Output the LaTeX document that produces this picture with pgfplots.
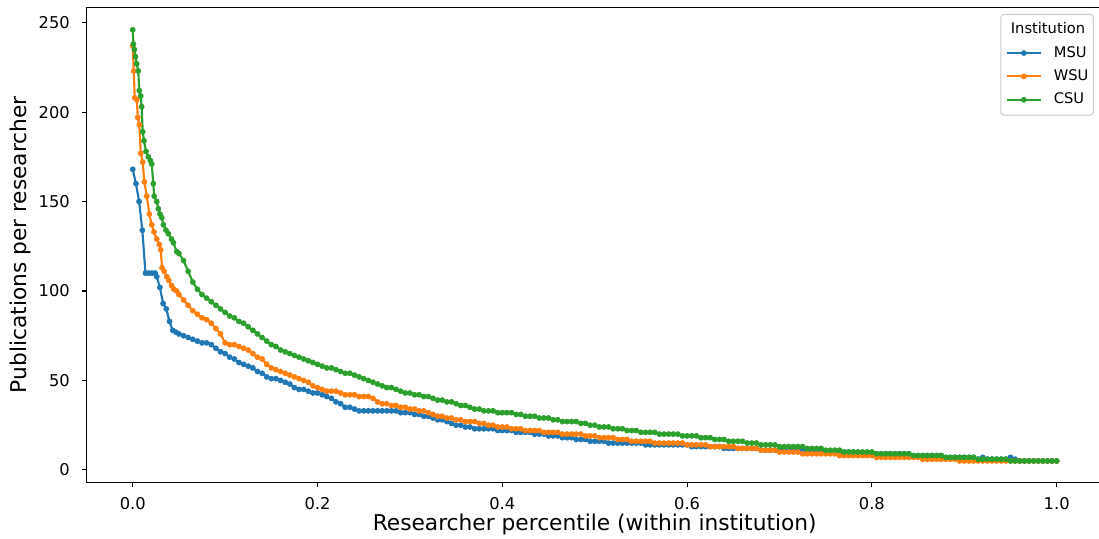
\documentclass[border=0pt]{standalone}
\usepackage{pgfplots}
\pgfplotsset{compat=1.18}
\usepackage{fontspec}
\setmainfont{DejaVu Sans}
\definecolor{c0}{HTML}{1F77B4}
\definecolor{c1}{HTML}{FF7F0E}
\definecolor{c2}{HTML}{2CA02C}
\newcommand{\tickfont}{\fontsize{12.2}{15}\selectfont}
\newcommand{\labfont}{\fontsize{16.3}{19}\selectfont}
\newcommand{\legfont}{\fontsize{11}{13}\selectfont}
\begin{document}
\begin{tikzpicture}
\path[use as bounding box, clip] (-64.9pt,-42.5pt) rectangle (759.4pt,361.7pt);
\begin{axis}[
  at={(0pt,0pt)}, anchor=south west,
  scale only axis, width=762.3pt, height=356.25pt,
  xmin=-0.05, xmax=1.05, ymin=-6.9, ymax=258.6,
  xtick={0,0.2,0.4,0.6,0.8,1}, xticklabels={0.0,0.2,0.4,0.6,0.8,1.0},
  ytick={0,50,100,150,200,250}, yticklabels={0,50,100,150,200,250},
  tick align=outside, tick pos=left,
  major tick length=3.75pt,
  every tick/.style={black, line width=0.85pt},
  axis line style={line width=0.85pt},
  xticklabel style={font=\tickfont, inner sep=0pt, anchor=north, yshift=-7.5pt},
  yticklabel style={font=\tickfont, inner sep=0pt, anchor=east, xshift=-8.6pt},
  xlabel={Researcher percentile (within institution)},
  ylabel={Publications per researcher},
  xlabel style={font=\labfont, inner sep=0pt, at={(axis description cs:0.5,-0.1025)}, anchor=base},
  ylabel style={font=\labfont, inner sep=0pt, at={(axis description cs:-0.0593,0.5)}, anchor=base, rotate=0},
  legend cell align=left,
  legend image code/.code={\draw[mark repeat=2,mark phase=2,#1] plot coordinates {(0pt,0pt) (12.75pt,0pt) (25.5pt,0pt)};},
  legend style={at={(axis description cs:1,1)}, anchor=north east, xshift=-6.7pt, yshift=-5pt,
    draw=black!20, line width=0.75pt, rounded corners=2.5pt, fill=white,
    inner xsep=3.75pt, inner ysep=6pt, font=\legfont, row sep=6.5pt, column sep=9pt,
    nodes={inner sep=0pt, text height=8.5pt, text depth=2.5pt}},
  every axis plot/.append style={line width=1.6pt, mark=*, mark size=1.9pt, mark options={solid, line width=0.5pt}},
]
\addlegendimage{empty legend}
\addlegendentry{\hspace*{-32.25pt}Institution}

\addplot[color=c0] coordinates {
(0,168)(0.0035,160)(0.0069,150)(0.0104,134)(0.0138,110)(0.0173,110)(0.0208,110)(0.0242,110)(0.026,108)(0.0294,102)(0.0329,93)(0.0363,90)(0.0398,83)(0.0433,78)(0.0467,77)
(0.05,76)(0.055,75)(0.06,74)(0.065,73)(0.07,72)(0.075,71)(0.08,71)(0.085,70)(0.09,68)(0.095,66)
(0.1,65)(0.105,63)(0.11,62)(0.115,60)(0.12,59)(0.125,58)(0.13,57)(0.135,55)(0.14,54)(0.145,52)
(0.15,51)(0.155,51)(0.16,50)(0.165,49)(0.17,48)(0.175,46)(0.18,45)(0.185,45)(0.19,44)(0.195,43)
(0.2,43)(0.205,42)(0.21,41)(0.215,40)(0.22,38)(0.225,37)(0.23,35)(0.235,35)(0.24,34)(0.245,33)
(0.25,33)(0.255,33)(0.26,33)(0.265,33)(0.27,33)(0.275,33)(0.28,33)(0.285,33)(0.29,32)(0.295,32)
(0.3,32)(0.305,31)(0.31,31)(0.315,30)(0.32,30)(0.325,29)(0.33,28)(0.335,28)(0.34,27)(0.345,26)
(0.35,25)(0.355,25)(0.36,24)(0.365,24)(0.37,23)(0.375,23)(0.38,23)(0.385,23)(0.39,23)(0.395,22)
(0.4,22)(0.405,22)(0.41,22)(0.415,21)(0.42,21)(0.425,21)(0.43,21)(0.435,20)(0.44,20)(0.445,20)
(0.45,19)(0.455,19)(0.46,19)(0.465,18)(0.47,18)(0.475,18)(0.48,17)(0.485,17)(0.49,17)(0.495,16)
(0.5,16)(0.505,16)(0.51,16)(0.515,15)(0.52,15)(0.525,15)(0.53,15)(0.535,15)(0.54,15)(0.545,15)
(0.55,15)(0.555,14)(0.56,14)(0.565,14)(0.57,14)(0.575,14)(0.58,14)(0.585,14)(0.59,14)(0.595,14)
(0.6,14)(0.605,13)(0.61,13)(0.615,13)(0.62,13)(0.625,13)(0.63,13)(0.635,13)(0.64,12)(0.645,12)
(0.65,12)(0.655,12)(0.66,12)(0.665,12)(0.67,12)(0.675,12)(0.68,11)(0.685,11)(0.69,11)(0.695,11)
(0.7,11)(0.705,11)(0.71,11)(0.715,11)(0.72,11)(0.725,11)(0.73,11)(0.735,10)(0.74,10)(0.745,10)
(0.75,10)(0.755,10)(0.76,10)(0.765,10)(0.77,10)(0.775,10)(0.78,10)(0.785,9)(0.79,9)(0.795,9)
(0.8,9)(0.805,9)(0.81,9)(0.815,9)(0.82,9)(0.825,9)(0.83,9)(0.835,9)(0.84,9)(0.845,8)
(0.85,8)(0.855,8)(0.86,8)(0.865,8)(0.87,8)(0.875,8)(0.88,7)(0.885,7)(0.89,7)(0.895,7)
(0.9,7)(0.905,7)(0.91,7)(0.915,6)(0.92,7)(0.925,6)(0.93,6)(0.935,6)(0.94,6)(0.945,6)
(0.95,7)(0.955,6)(0.96,5)(0.965,5)(0.97,5)(0.975,5)(0.98,5)(0.985,5)(0.99,5)(0.995,5)(1,5)
};
\addlegendentry{MSU}

\addplot[color=c1] coordinates {
(0,237)(0.0011,223)(0.0022,208)(0.0044,207)(0.0055,197)(0.0071,193)(0.0087,177)(0.0108,172)(0.0126,161)(0.0152,153)(0.018,143)(0.0206,137)(0.023,133)(0.026,129)(0.0288,126)(0.0303,123)(0.0317,113)(0.034,111)(0.0368,108)(0.039,106)(0.042,103)(0.0445,101)(0.0476,100)
(0.05,98)(0.055,95)(0.06,92)(0.065,89)(0.07,87)(0.075,85)(0.08,84)(0.085,82)(0.09,79)(0.095,76)
(0.1,71)(0.105,70)(0.11,70)(0.115,69)(0.12,68)(0.125,67)(0.13,65)(0.135,63)(0.14,62)(0.145,59)
(0.15,57)(0.155,56)(0.16,55)(0.165,54)(0.17,53)(0.175,52)(0.18,51)(0.185,50)(0.19,49)(0.195,47)
(0.2,46)(0.205,45)(0.21,44)(0.215,44)(0.22,44)(0.225,43)(0.23,42)(0.235,42)(0.24,42)(0.245,41)
(0.25,41)(0.255,41)(0.26,40)(0.265,38)(0.27,37)(0.275,37)(0.28,36)(0.285,36)(0.29,35)(0.295,35)
(0.3,34)(0.305,34)(0.31,33)(0.315,33)(0.32,32)(0.325,31)(0.33,30)(0.335,30)(0.34,29)(0.345,29)
(0.35,28)(0.355,28)(0.36,27)(0.365,27)(0.37,27)(0.375,26)(0.38,26)(0.385,25)(0.39,25)(0.395,24)
(0.4,24)(0.405,24)(0.41,23)(0.415,23)(0.42,23)(0.425,22)(0.43,22)(0.435,22)(0.44,22)(0.445,21)
(0.45,21)(0.455,21)(0.46,21)(0.465,20)(0.47,20)(0.475,20)(0.48,20)(0.485,20)(0.49,19)(0.495,19)
(0.5,19)(0.505,18)(0.51,18)(0.515,18)(0.52,18)(0.525,17)(0.53,17)(0.535,17)(0.54,16)(0.545,16)
(0.55,16)(0.555,16)(0.56,16)(0.565,15)(0.57,15)(0.575,15)(0.58,15)(0.585,15)(0.59,15)(0.595,15)
(0.6,14)(0.605,14)(0.61,14)(0.615,14)(0.62,14)(0.625,13)(0.63,13)(0.635,13)(0.64,13)(0.645,13)
(0.65,13)(0.655,12)(0.66,12)(0.665,12)(0.67,12)(0.675,12)(0.68,11)(0.685,11)(0.69,11)(0.695,11)
(0.7,10)(0.705,10)(0.71,10)(0.715,10)(0.72,10)(0.725,9)(0.73,9)(0.735,9)(0.74,9)(0.745,9)
(0.75,9)(0.755,9)(0.76,9)(0.765,8)(0.77,8)(0.775,8)(0.78,8)(0.785,8)(0.79,8)(0.795,8)
(0.8,8)(0.805,7)(0.81,7)(0.815,7)(0.82,7)(0.825,7)(0.83,7)(0.835,7)(0.84,7)(0.845,7)
(0.85,7)(0.855,6)(0.86,6)(0.865,6)(0.87,6)(0.875,6)(0.88,6)(0.885,6)(0.89,6)(0.895,5)
(0.9,5)(0.905,5)(0.91,5)(0.915,5)(0.92,5)(0.925,5)(0.93,5)(0.935,5)(0.94,5)(0.945,5)
(0.95,5)(0.955,5)(0.96,5)(0.965,5)(0.97,5)(0.975,5)(0.98,5)(0.985,5)(0.99,5)(0.995,5)(1,5)
};
\addlegendentry{WSU}

\addplot[color=c2] coordinates {
(0,246)(0.0007,238)(0.0018,235)(0.003,231)(0.0043,227)(0.006,223)(0.0071,212)(0.0087,209)(0.0097,203)(0.0108,189)(0.0122,184)(0.0144,178)(0.0169,175)(0.019,173)(0.0206,171)(0.0223,160)(0.0232,153)(0.026,150)(0.0277,146)(0.0295,143)(0.0314,141)(0.0332,137)(0.036,134)(0.0386,132)(0.042,129)(0.044,127)(0.0476,122)
(0.05,121)(0.055,117)(0.06,111)(0.065,105)(0.07,101)(0.075,98)(0.08,96)(0.085,94)(0.09,92)(0.095,90)
(0.1,88)(0.105,86)(0.11,85)(0.115,83)(0.12,82)(0.125,80)(0.13,78)(0.135,76)(0.14,74)(0.145,72)
(0.15,70)(0.155,69)(0.16,67)(0.165,66)(0.17,65)(0.175,64)(0.18,63)(0.185,62)(0.19,61)(0.195,60)
(0.2,59)(0.205,58)(0.21,57)(0.215,57)(0.22,56)(0.225,55)(0.23,54)(0.235,54)(0.24,53)(0.245,52)
(0.25,51)(0.255,50)(0.26,49)(0.265,48)(0.27,47)(0.275,46)(0.28,46)(0.285,45)(0.29,44)(0.295,43)
(0.3,43)(0.305,42)(0.31,42)(0.315,41)(0.32,41)(0.325,40)(0.33,39)(0.335,39)(0.34,38)(0.345,38)
(0.35,37)(0.355,36)(0.36,36)(0.365,35)(0.37,34)(0.375,34)(0.38,33)(0.385,33)(0.39,33)(0.395,32)
(0.4,32)(0.405,32)(0.41,32)(0.415,31)(0.42,31)(0.425,30)(0.43,30)(0.435,30)(0.44,29)(0.445,29)
(0.45,29)(0.455,28)(0.46,28)(0.465,27)(0.47,27)(0.475,27)(0.48,27)(0.485,26)(0.49,26)(0.495,25)
(0.5,25)(0.505,24)(0.51,24)(0.515,24)(0.52,23)(0.525,23)(0.53,23)(0.535,22)(0.54,22)(0.545,22)
(0.55,21)(0.555,21)(0.56,21)(0.565,21)(0.57,20)(0.575,20)(0.58,20)(0.585,20)(0.59,20)(0.595,19)
(0.6,19)(0.605,19)(0.61,19)(0.615,18)(0.62,18)(0.625,18)(0.63,17)(0.635,17)(0.64,17)(0.645,16)
(0.65,16)(0.655,16)(0.66,16)(0.665,15)(0.67,15)(0.675,15)(0.68,14)(0.685,14)(0.69,14)(0.695,14)
(0.7,13)(0.705,13)(0.71,13)(0.715,13)(0.72,13)(0.725,13)(0.73,12)(0.735,12)(0.74,12)(0.745,12)
(0.75,11)(0.755,11)(0.76,11)(0.765,11)(0.77,10)(0.775,10)(0.78,10)(0.785,10)(0.79,10)(0.795,10)
(0.8,10)(0.805,9)(0.81,9)(0.815,9)(0.82,9)(0.825,9)(0.83,9)(0.835,9)(0.84,9)(0.845,8)
(0.85,8)(0.855,8)(0.86,8)(0.865,8)(0.87,8)(0.875,8)(0.88,7)(0.885,7)(0.89,7)(0.895,7)
(0.9,7)(0.905,7)(0.91,7)(0.915,6)(0.92,6)(0.925,6)(0.93,6)(0.935,6)(0.94,6)(0.945,6)
(0.95,5)(0.955,5)(0.96,5)(0.965,5)(0.97,5)(0.975,5)(0.98,5)(0.985,5)(0.99,5)(0.995,5)(1,5)
};
\addlegendentry{CSU}
\end{axis}
\end{tikzpicture}
\end{document}
